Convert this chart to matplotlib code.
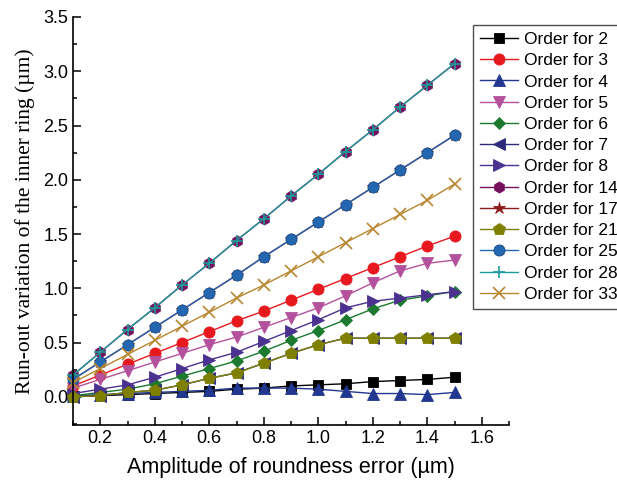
import numpy as np
import matplotlib.pyplot as plt
from matplotlib.ticker import MultipleLocator

x = [0.1, 0.2, 0.3, 0.4, 0.5, 0.6, 0.7, 0.8, 0.9, 1.0, 1.1, 1.2, 1.3, 1.4, 1.5]

order2 = [0.01, 0.01, 0.02, 0.03, 0.04, 0.05, 0.07, 0.08, 0.10, 0.11, 0.12, 0.14, 0.15, 0.16, 0.18]
order3 = [0.10, 0.20, 0.30, 0.40, 0.50, 0.60, 0.70, 0.79, 0.89, 0.99, 1.09, 1.19, 1.29, 1.39, 1.48]
order4 = [0.01, 0.02, 0.03, 0.04, 0.05, 0.06, 0.08, 0.08, 0.08, 0.07, 0.05, 0.03, 0.03, 0.02, 0.04]
order5 = [0.08, 0.16, 0.24, 0.32, 0.40, 0.48, 0.55, 0.64, 0.73, 0.82, 0.93, 1.05, 1.16, 1.23, 1.26]
order6 = [0.01, 0.04, 0.07, 0.12, 0.19, 0.26, 0.33, 0.42, 0.52, 0.61, 0.71, 0.81, 0.89, 0.93, 0.97]
order7 = [0.00, 0.01, 0.04, 0.06, 0.11, 0.17, 0.22, 0.31, 0.40, 0.48, 0.54, 0.54, 0.54, 0.54, 0.54]
order8 = [0.03, 0.07, 0.11, 0.18, 0.26, 0.34, 0.41, 0.51, 0.61, 0.71, 0.82, 0.88, 0.91, 0.94, 0.97]
order14 = [0.20, 0.41, 0.62, 0.82, 1.03, 1.23, 1.44, 1.64, 1.85, 2.05, 2.26, 2.46, 2.67, 2.87, 3.07]
order17 = [0.16, 0.32, 0.48, 0.64, 0.80, 0.96, 1.12, 1.29, 1.45, 1.61, 1.77, 1.93, 2.09, 2.25, 2.41]
order21 = [0.00, 0.01, 0.04, 0.06, 0.11, 0.17, 0.22, 0.31, 0.40, 0.48, 0.54, 0.54, 0.54, 0.54, 0.54]
order25 = [0.16, 0.32, 0.48, 0.64, 0.80, 0.96, 1.12, 1.29, 1.45, 1.61, 1.77, 1.93, 2.09, 2.25, 2.41]
order28 = [0.20, 0.41, 0.62, 0.82, 1.03, 1.23, 1.44, 1.64, 1.85, 2.05, 2.26, 2.46, 2.67, 2.87, 3.07]
order33 = [0.13, 0.26, 0.39, 0.52, 0.65, 0.78, 0.91, 1.03, 1.16, 1.29, 1.42, 1.55, 1.68, 1.81, 1.96]

labels = ['Order for 2', 'Order for 3', 'Order for 4', 'Order for 5', 'Order for 6',
          'Order for 7', 'Order for 8', 'Order for 14', 'Order for 17', 'Order for 21',
          'Order for 25', 'Order for 28', 'Order for 33']
series = [order2, order3, order4, order5, order6, order7, order8,
          order14, order17, order21, order25, order28, order33]

# (marker, color, marker size)
styles = [('s', '#000000', 7),
          ('o', '#E8191E', 8),
          ('^', '#22378F', 8),
          ('v', '#B4519C', 8),
          ('D', '#1B7A2F', 6.5),
          ('<', '#2D2A7C', 8),
          ('>', '#4B3190', 8),
          ('h', '#75105E', 8),
          ('*', '#8B1A1A', 9),
          ('p', '#7F7F00', 9),
          ('o', '#2467B0', 8),
          ('+', '#1F9A9A', 8),
          ('x', '#B8862F', 9)]

plt.rcParams['font.family'] = ['Liberation Sans', 'DejaVu Sans']

fig = plt.figure(figsize=(6.17, 4.83), dpi=100)
ax = fig.add_axes([73/617, 1-425/483, (509-73)/617, (425-17)/483])

for y, lab, (m, c, ms) in zip(series, labels, styles):
    mec = c
    if lab == 'Order for 25':
        mec = '#174A85'
    ax.plot(x, y, color=c, lw=1.0, marker=m, markersize=ms,
            markerfacecolor=c, markeredgecolor=mec,
            markeredgewidth=1.2 if m in '+x' else 0.6,
            label=lab, clip_on=False)

ax.set_xlim(0.1, 1.7)
ax.set_ylim(-0.26, 3.5)
ax.xaxis.set_minor_locator(MultipleLocator(0.1))
ax.yaxis.set_minor_locator(MultipleLocator(0.25))
ax.set_xticks([0.2, 0.4, 0.6, 0.8, 1.0, 1.2, 1.4, 1.6])
ax.set_yticks([0.0, 0.5, 1.0, 1.5, 2.0, 2.5, 3.0, 3.5])
ax.tick_params(which='major', direction='in', length=6, width=1.1, labelsize=13)
ax.tick_params(which='minor', direction='in', length=3, width=1.1)
ax.spines['top'].set_visible(False)
ax.spines['right'].set_visible(False)
ax.spines['left'].set_linewidth(1.2)
ax.spines['bottom'].set_linewidth(1.2)

ax.set_xlabel('Amplitude of roundness error (µm)', fontsize=15.5, labelpad=7)
ax.set_ylabel('Run-out variation of the inner ring (µm)', fontsize=15.5,
              family=['Liberation Serif', 'DejaVu Serif'], labelpad=6)

leg = fig.legend(loc='upper left', bbox_to_anchor=(473/617, 1-25/483),
                 fontsize=12.5, frameon=True, fancybox=False, borderaxespad=0,
                 handlelength=2.2, handletextpad=0.35, labelspacing=0.35,
                 borderpad=0.4)
leg.get_frame().set_edgecolor('#222222')
leg.get_frame().set_linewidth(1.0)

fig.savefig('out.png', dpi=100)
